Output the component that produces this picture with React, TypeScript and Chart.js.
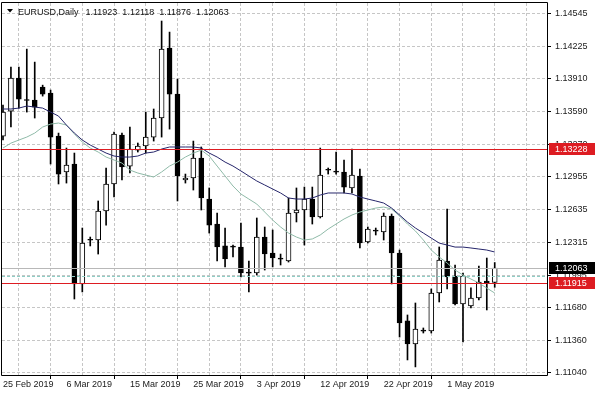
import React, { useEffect, useRef } from "react";
import { Chart, registerables } from "chart.js";

Chart.register(...registerables);

const dates = [
  "25 Feb 2019", "26 Feb 2019", "27 Feb 2019", "28 Feb 2019", "1 Mar 2019", "3 Mar 2019", "4 Mar 2019", "5 Mar 2019",
  "6 Mar 2019", "7 Mar 2019", "8 Mar 2019", "10 Mar 2019", "11 Mar 2019", "12 Mar 2019", "13 Mar 2019", "14 Mar 2019",
  "15 Mar 2019", "17 Mar 2019", "18 Mar 2019", "19 Mar 2019", "20 Mar 2019", "21 Mar 2019", "22 Mar 2019", "24 Mar 2019",
  "25 Mar 2019", "26 Mar 2019", "27 Mar 2019", "28 Mar 2019", "29 Mar 2019", "31 Mar 2019", "1 Apr 2019", "2 Apr 2019",
  "3 Apr 2019", "4 Apr 2019", "5 Apr 2019", "7 Apr 2019", "8 Apr 2019", "9 Apr 2019", "10 Apr 2019", "11 Apr 2019",
  "12 Apr 2019", "14 Apr 2019", "15 Apr 2019", "16 Apr 2019", "17 Apr 2019", "18 Apr 2019", "19 Apr 2019", "21 Apr 2019",
  "22 Apr 2019", "23 Apr 2019", "24 Apr 2019", "25 Apr 2019", "26 Apr 2019", "28 Apr 2019", "29 Apr 2019", "30 Apr 2019",
  "1 May 2019", "2 May 2019", "3 May 2019", "5 May 2019", "6 May 2019", "7 May 2019", "8 May 2019",
];

const opens = [
  1.13353, 1.13597, 1.1392, 1.13704, 1.13704, 1.13831, 1.13773, 1.13353,
  1.13002, 1.1308, 1.11909, 1.12338, 1.12338, 1.12621, 1.12885, 1.13363,
  1.1306, 1.13216, 1.13256, 1.13343, 1.13529, 1.14212, 1.13763, 1.12924,
  1.12943, 1.13138, 1.12738, 1.12494, 1.1228, 1.1227, 1.1227, 1.12016,
  1.12016, 1.12367, 1.12211, 1.12153, 1.12133, 1.12602, 1.12631, 1.12738,
  1.12563, 1.13021, 1.13002, 1.13002, 1.12846, 1.12963, 1.12319, 1.12426,
  1.12416, 1.12572, 1.12211, 1.11548, 1.11323, 1.1145, 1.1145, 1.11821,
  1.12133, 1.11987, 1.11713, 1.11694, 1.11772, 1.11938, 1.11923,
];
const highs = [
  1.13655, 1.14026, 1.14026, 1.14202, 1.14075, 1.1385, 1.13802, 1.13382,
  1.13236, 1.13187, 1.12455, 1.12367, 1.12719, 1.13041, 1.13392, 1.13382,
  1.13441, 1.13285, 1.13587, 1.13617, 1.14476, 1.14368, 1.13909, 1.12982,
  1.13304, 1.13246, 1.12846, 1.12602, 1.12455, 1.12289, 1.12504, 1.12133,
  1.12553, 1.12465, 1.12436, 1.12201, 1.12748, 1.12846, 1.12855, 1.12855,
  1.13236, 1.13041, 1.13197, 1.13119, 1.13226, 1.13031, 1.12465, 1.12455,
  1.12602, 1.12592, 1.1224, 1.11606, 1.11723, 1.11479, 1.1186, 1.1227,
  1.12641, 1.12094, 1.12016, 1.1187, 1.12084, 1.12162, 1.12118,
];
const lows = [
  1.13314, 1.13441, 1.13626, 1.13587, 1.13529, 1.13743, 1.1308, 1.12885,
  1.12894, 1.11762, 1.11831, 1.1228, 1.12201, 1.12484, 1.12758, 1.12924,
  1.12992, 1.13197, 1.13187, 1.13304, 1.13343, 1.13421, 1.12719, 1.12894,
  1.12826, 1.12631, 1.12406, 1.12133, 1.12075, 1.12172, 1.11977, 1.11831,
  1.11996, 1.12045, 1.12075, 1.12094, 1.12123, 1.12514, 1.12289, 1.12494,
  1.12553, 1.12982, 1.12982, 1.12797, 1.12797, 1.1226, 1.12309, 1.12387,
  1.12338, 1.11909, 1.11391, 1.11167, 1.11099, 1.1143, 1.1143, 1.11733,
  1.1186, 1.11704, 1.11343, 1.11674, 1.11752, 1.11655, 1.11876,
];
const closes = [
  1.13587, 1.1392, 1.13714, 1.137, 1.13636, 1.13763, 1.13343, 1.12982,
  1.1307, 1.11909, 1.12309, 1.12336, 1.12621, 1.12885, 1.13373, 1.13051,
  1.13226, 1.13256, 1.13343, 1.13529, 1.14202, 1.13763, 1.12963, 1.12943,
  1.13138, 1.12748, 1.12484, 1.1227, 1.12153, 1.12268, 1.12016, 1.12014,
  1.12367, 1.12201, 1.12162, 1.12151, 1.12602, 1.12631, 1.12738, 1.12563,
  1.12972, 1.13019, 1.13, 1.12855, 1.12972, 1.12309, 1.12445, 1.12424,
  1.12572, 1.12211, 1.11528, 1.11323, 1.11469, 1.11448, 1.11821, 1.12143,
  1.11977, 1.11713, 1.11987, 1.11772, 1.11928, 1.11918, 1.12063,
];

const maSlow = [
  1.13617, 1.13617, 1.13626, 1.13646, 1.13636, 1.13626, 1.13587, 1.13548,
  1.1346, 1.13382, 1.13314, 1.13265, 1.13226, 1.13187, 1.13158, 1.13148,
  1.13148, 1.13158, 1.13187, 1.13197, 1.13226, 1.13246, 1.13246, 1.13246,
  1.13246, 1.13236, 1.13187, 1.13148, 1.13099, 1.1306, 1.13012, 1.12963,
  1.12914, 1.12875, 1.12836, 1.12797, 1.12748, 1.12738, 1.12738, 1.12748,
  1.12777, 1.12797, 1.12797, 1.12797, 1.12787, 1.12758, 1.12738, 1.12719,
  1.12699, 1.1265, 1.12582, 1.12513, 1.12455, 1.12406, 1.12357, 1.12308,
  1.12289, 1.12269, 1.12269, 1.1226, 1.1225, 1.1224, 1.12221,
];
const maFast = [
  1.13236, 1.13284, 1.13314, 1.13343, 1.13382, 1.13441, 1.1347, 1.1348,
  1.1346, 1.13373, 1.13294, 1.13236, 1.13197, 1.13148, 1.13119, 1.13089,
  1.13021, 1.12992, 1.12972, 1.12953, 1.13002, 1.1306, 1.13099, 1.13148,
  1.13187, 1.13216, 1.13158, 1.1306, 1.12963, 1.12865, 1.12787, 1.12738,
  1.12689, 1.12611, 1.12533, 1.12465, 1.12406, 1.12367, 1.12338, 1.12348,
  1.12387, 1.12445, 1.12494, 1.12543, 1.12582, 1.12611, 1.12631, 1.1265,
  1.1266, 1.1264, 1.12572, 1.12494, 1.12426, 1.12338, 1.1224, 1.12172,
  1.12113, 1.12045, 1.11996, 1.11957, 1.11918, 1.11869, 1.1182,
];

const priceTicks = [
  1.14545, 1.14225, 1.1391, 1.1359, 1.1327, 1.12955, 1.12635, 1.12315, 1.11995, 1.1168, 1.1136, 1.1104,
];
const redLevels = [1.13228, 1.11915];
const bidPrice = 1.12063;
const dashedLevel = 1.11985;
const titleSymbol = "EURUSD,Daily";
const titleValues = ["1.11923", "1.12118", "1.11876", "1.12063"];

const FONT = '"Liberation Sans", Arial, sans-serif';
const RED = "#dd1c22";

const overlay = {
  id: "overlay",
  afterDatasetsDraw(chart: any) {
    const { ctx, chartArea, scales } = chart;
    const { left, right, top, bottom } = chartArea;
    const y = scales.y;
    ctx.save();
    ctx.beginPath();
    ctx.rect(left, top, right - left, bottom - top);
    ctx.clip();
    ctx.lineWidth = 1;
    let py = Math.round(y.getPixelForValue(dashedLevel)) + 0.5;
    ctx.strokeStyle = "#8ccfc6";
    ctx.setLineDash([3, 2]);
    ctx.beginPath();
    ctx.moveTo(left, py);
    ctx.lineTo(right, py);
    ctx.stroke();
    ctx.setLineDash([]);
    py = Math.round(y.getPixelForValue(bidPrice)) + 0.5;
    ctx.strokeStyle = "#b8b8b8";
    ctx.beginPath();
    ctx.moveTo(left, py);
    ctx.lineTo(right, py);
    ctx.stroke();
    for (const lv of redLevels) {
      const ly = Math.round(y.getPixelForValue(lv)) + 0.5;
      ctx.strokeStyle = RED;
      ctx.beginPath();
      ctx.moveTo(left, ly);
      ctx.lineTo(right, ly);
      ctx.stroke();
    }
    ctx.restore();
  },
  afterDraw(chart: any) {
    const { ctx, chartArea, scales } = chart;
    const { left, right, top, bottom } = chartArea;
    const y = scales.y;
    ctx.save();
    ctx.strokeStyle = "#000";
    ctx.lineWidth = 1;
    ctx.beginPath();
    ctx.moveTo(left - 0.5, top - 0.5);
    ctx.lineTo(right + 0.5, top - 0.5);
    ctx.moveTo(left - 0.5, top - 0.5);
    ctx.lineTo(left - 0.5, bottom + 0.5);
    ctx.moveTo(right + 0.5, top - 0.5);
    ctx.lineTo(right + 0.5, bottom + 0.5);
    ctx.moveTo(left - 0.5, bottom + 0.5);
    ctx.lineTo(right + 0.5, bottom + 0.5);
    ctx.stroke();

    const boxes: [number, string][] = [
      [redLevels[0], RED],
      [bidPrice, "#000"],
      [redLevels[1], RED],
    ];
    ctx.font = "9px " + FONT;
    ctx.textBaseline = "middle";
    ctx.textAlign = "left";
    for (const [p, bg] of boxes) {
      const cy = Math.round(y.getPixelForValue(p));
      ctx.fillStyle = bg;
      ctx.fillRect(right + 2, cy - 6, 46, 12);
      ctx.fillStyle = "#fff";
      ctx.fillText(p.toFixed(5), right + 8, cy + 0.5);
    }

    ctx.fillStyle = "#000";
    ctx.beginPath();
    ctx.moveTo(7, 9);
    ctx.lineTo(13, 9);
    ctx.lineTo(10, 12.5);
    ctx.closePath();
    ctx.fill();
    ctx.fillStyle = "#111";
    ctx.textBaseline = "alphabetic";
    ctx.font = "9px " + FONT;
    let tx = 18;
    ctx.fillText(titleSymbol, tx, 15);
    tx += ctx.measureText(titleSymbol).width + 7;
    for (const v of titleValues) {
      ctx.fillText(v, tx, 15);
      tx += ctx.measureText(v).width + 5;
    }
    ctx.restore();
  },
};

export default function App() {
  const ref = useRef<HTMLCanvasElement | null>(null);
  useEffect(() => {
    document.body.style.margin = "0";
    const canvas = ref.current;
    if (!canvas) return;
    const pxPerBar = 7.931;
    const xMin = -1 / pxPerBar;
    const xMax = 544 / pxPerBar;
    const bodyColors = opens.map((o, i) => (closes[i] >= o ? "#ffffff" : "#000000"));
    const chart = new Chart(canvas, {
      type: "bar",
      data: {
        datasets: [
          {
            type: "line",
            label: "MA slow",
            data: maSlow.map((v, i) => ({ x: i, y: v })),
            borderColor: "#25256a",
            borderWidth: 1,
            pointRadius: 0,
            tension: 0,
            order: 0,
          } as any,
          {
            type: "line",
            label: "MA fast",
            data: maFast.map((v, i) => ({ x: i, y: v })),
            borderColor: "#8fbaa8",
            borderWidth: 1,
            pointRadius: 0,
            tension: 0,
            order: 0,
          } as any,
          {
            type: "bar",
            label: "Body",
            data: opens.map((o, i) => ({ x: i, y: [o, closes[i]] })),
            backgroundColor: bodyColors,
            borderColor: "#000",
            borderWidth: 1,
            borderSkipped: false,
            barThickness: 5,
            minBarLength: 1,
            grouped: false,
            order: 1,
          } as any,
          {
            type: "bar",
            label: "Wick",
            data: lows.map((l, i) => ({ x: i, y: [l, highs[i]] })),
            backgroundColor: "#000",
            borderWidth: 0,
            barThickness: 1,
            grouped: false,
            order: 2,
          } as any,
        ],
      },
      options: {
        animation: false,
        responsive: false,
        maintainAspectRatio: false,
        layout: { padding: { left: 2, top: 3, right: 0, bottom: 0 } },
        plugins: {
          legend: { display: false },
          tooltip: { enabled: false },
          title: { display: false },
        },
        scales: {
          x: {
            type: "linear",
            min: xMin,
            max: xMax,
            offset: false,
            afterBuildTicks: (s: any) => {
              const t = [];
              for (let v = 0; v <= 68; v += 4) t.push({ value: v });
              s.ticks = t;
            },
            afterFit: (s: any) => {
              s.height = 22;
              s.paddingLeft = 0;
              s.paddingRight = 0;
            },
            grid: {
              color: "#c6c6c6",
              lineWidth: 1,
              drawTicks: true,
              tickLength: 4,
              tickColor: (c: any) => {
                const v = c.tick ? Math.round(c.tick.value) : -1;
                return v % 8 === 0 && v < dates.length ? "#000" : "rgba(0,0,0,0)";
              },
            },
            border: { display: false, dash: [3, 2] },
            ticks: {
              autoSkip: false,
              maxRotation: 0,
              minRotation: 0,
              align: "start",
              padding: 0,
              color: "#1a1a1a",
              font: { family: FONT, size: 9 },
              callback: (v: any) => {
                const i = Math.round(Number(v));
                return i % 8 === 0 && dates[i] ? dates[i] : "";
              },
            },
          },
          y: {
            type: "linear",
            position: "right",
            min: 1.1102,
            max: 1.14652,
            afterBuildTicks: (s: any) => {
              s.ticks = priceTicks.map((v) => ({ value: v }));
            },
            afterFit: (s: any) => {
              s.width = 53;
              s.paddingTop = 0;
              s.paddingBottom = 0;
            },
            grid: {
              color: "#c6c6c6",
              lineWidth: 1,
              drawTicks: true,
              tickLength: 4,
              tickColor: "#000",
            },
            border: { display: false, dash: [3, 2] },
            ticks: {
              padding: 4,
              crossAlign: "near",
              color: "#1a1a1a",
              font: { family: FONT, size: 9 },
              callback: (v: any) => Number(v).toFixed(5),
            },
          },
        },
      } as any,
      plugins: [overlay],
    });
    return () => chart.destroy();
  }, []);
  return (
    <div style={{ width: 600, height: 397 }}>
      <canvas ref={ref} width={600} height={397} style={{ display: "block" }} />
    </div>
  );
}
